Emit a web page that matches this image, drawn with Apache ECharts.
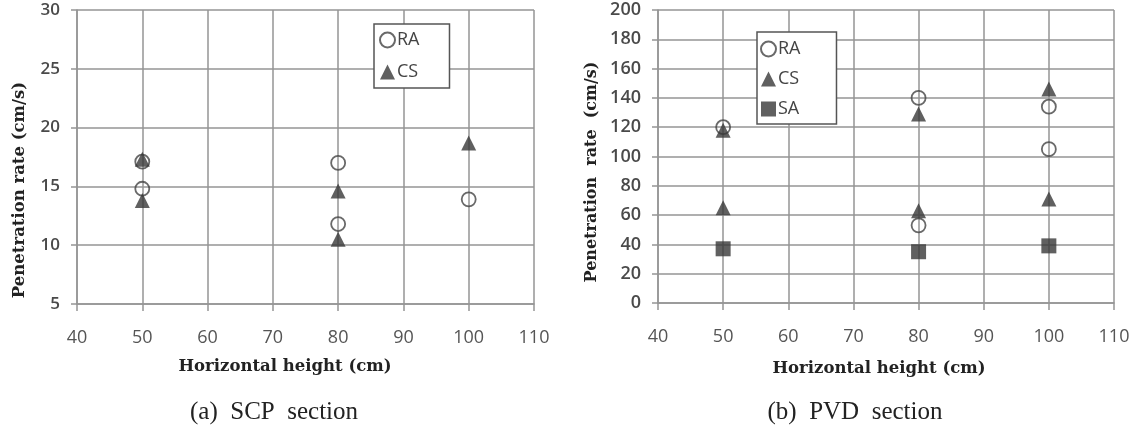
<!DOCTYPE html>
<html>
<head>
<meta charset="utf-8">
<script src="https://cdn.jsdelivr.net/npm/echarts@6/dist/echarts.min.js"></script>
<style>
  html, body { margin: 0; padding: 0; background: #fff; }
  #chart { width: 1142px; height: 426px; }
</style>
</head>
<body>
<div id="chart"></div>
<script>
// x axis: horizontal height (cm)
const xTicks = [40, 50, 60, 70, 80, 90, 100, 110]
const scpTicks = [5, 10, 15, 20, 25, 30]
const pvdTicks = [0, 20, 40, 60, 80, 100, 120, 140, 160, 180, 200]

// (a) SCP section
const scpRA = [[50, 17.1], [50, 14.8], [80, 17.0], [80, 11.8], [100, 13.9]]
const scpCS = [[50, 17.3], [50, 13.8], [80, 14.6], [80, 10.5], [100, 18.7]]

// (b) PVD section
const pvdRA = [[50, 120], [80, 140], [80, 53], [100, 134], [100, 105]]
const pvdCS = [[50, 118], [50, 65], [80, 129], [80, 63], [100, 146], [100, 71]]
const pvdSA = [[50, 37], [80, 35], [100, 39]]

const gridColor = '#959595'
const markColor = '#383838'
const labelFont = 'Open Sans'
const nameFont = 'DejaVu Serif'

const raStyle = { color: 'rgba(0,0,0,0)', borderColor: '#444', borderWidth: 1.8 }
const fillStyle = { color: markColor }

function xAxisFor(gridIndex) {
  return {
    type: 'value', gridIndex,
    min: xTicks[0], max: xTicks[xTicks.length - 1], interval: 10,
    axisLine: { show: true, lineStyle: { color: gridColor, width: 1.5 } },
    axisTick: { show: true, length: 7, lineStyle: { color: gridColor, width: 1.5 } },
    splitLine: { show: true, lineStyle: { color: gridColor, width: 1.5 } },
    axisLabel: { fontFamily: labelFont, fontSize: 18, color: '#555', margin: 25 },
  }
}

function yAxisFor(gridIndex, ticks, fontSize) {
  return {
    type: 'value', gridIndex,
    min: ticks[0], max: ticks[ticks.length - 1], interval: ticks[1] - ticks[0],
    axisLine: { show: true, lineStyle: { color: gridColor, width: 1.5 } },
    axisTick: { show: true, length: 6, lineStyle: { color: gridColor, width: 1.5 } },
    splitLine: { show: true, lineStyle: { color: gridColor, width: 1.5 } },
    axisLabel: { fontFamily: labelFont, fontSize, fontWeight: 600, color: '#4a4a4a', margin: 17 },
  }
}

function legendFor(names, left, top, gap, padding) {
  return {
    data: names, orient: 'vertical', left, top,
    itemWidth: 15, itemHeight: 15, itemGap: gap, padding,
    borderColor: '#555', borderWidth: 1.5, backgroundColor: '#fff',
    selectedMode: false,
    textStyle: { fontFamily: labelFont, fontSize: 18, color: '#444', padding: [0, 0, 0, -3] },
  }
}

function textAt(text, x, y, font, size, weight, rotate) {
  return {
    type: 'text', x, y, rotation: rotate ? Math.PI / 2 : 0,
    style: {
      text, fontFamily: font, fontSize: size, fontWeight: weight,
      fill: '#222', textAlign: 'center', textVerticalAlign: 'middle',
    },
  }
}

const myChart = echarts.init(document.getElementById('chart'))
myChart.setOption({
  animation: false,
  grid: [
    { left: 77, top: 10, width: 457, height: 294 },
    { left: 658, top: 10, width: 456, height: 293 },
  ],
  xAxis: [xAxisFor(0), xAxisFor(1)],
  yAxis: [yAxisFor(0, scpTicks, 17), yAxisFor(1, pvdTicks, 18)],
  legend: [
    legendFor(['RA', 'CS'], 374, 24, 14, [7, 30, 7, 5]),
    legendFor(['RA', 'CS', 'SA'], 757, 32, 12, [8, 36, 6, 3]),
  ],
  graphic: [
    textAt('Penetration rate (cm/s)', 20, 190, nameFont, 16.5, 'bold', true),
    textAt('Horizontal height (cm)', 285, 367, nameFont, 16.5, 'bold', false),
    textAt('(a)  SCP  section', 274, 412, 'Liberation Serif', 25, 'normal', false),
    textAt('Penetration  rate  (cm/s)', 592, 172, nameFont, 16, 'bold', true),
    textAt('Horizontal height (cm)', 879, 369, nameFont, 16.5, 'bold', false),
    textAt('(b)  PVD  section', 855, 412, 'Liberation Serif', 25, 'normal', false),
  ],
  series: [
    { name: 'RA', type: 'scatter', xAxisIndex: 0, yAxisIndex: 0, symbol: 'circle', symbolSize: 14, itemStyle: raStyle, data: scpRA },
    { name: 'CS', type: 'scatter', xAxisIndex: 0, yAxisIndex: 0, symbol: 'triangle', symbolSize: 15, itemStyle: fillStyle, data: scpCS },
    { name: 'RA', type: 'scatter', xAxisIndex: 1, yAxisIndex: 1, symbol: 'circle', symbolSize: 14, itemStyle: raStyle, data: pvdRA },
    { name: 'CS', type: 'scatter', xAxisIndex: 1, yAxisIndex: 1, symbol: 'triangle', symbolSize: 15, itemStyle: fillStyle, data: pvdCS },
    { name: 'SA', type: 'scatter', xAxisIndex: 1, yAxisIndex: 1, symbol: 'rect', symbolSize: 15, itemStyle: fillStyle, data: pvdSA },
  ],
})
</script>
</body>
</html>
